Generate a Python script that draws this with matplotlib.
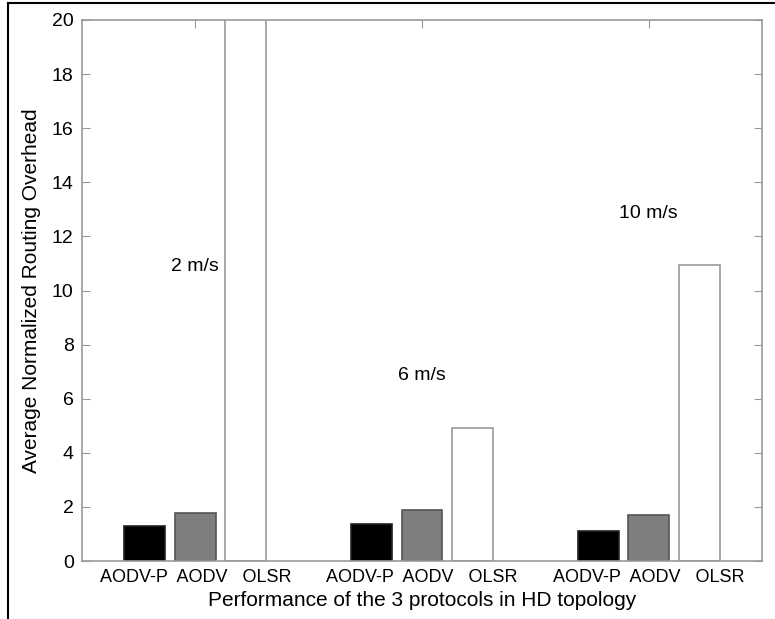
import matplotlib.pyplot as plt
import numpy as np

plt.rcParams['font.family'] = ['Liberation Sans', 'DejaVu Sans']

# Mean normalized routing overhead per speed group
speeds = ["2 m/s", "6 m/s", "10 m/s"]
protocols = ["AODV-P", "AODV", "OLSR"]
aodv_p = [1.28, 1.37, 1.11]
aodv = [1.77, 1.88, 1.70]
olsr = [20.5, 4.92, 10.94]
speed_label_y = [10.9, 6.85, 12.85]

colors = ["black", "#7f7f7f", "white"]
edges = ["#222222", "#555555", "#9a9a9a"]

fig = plt.figure(figsize=(7.75, 6.19), dpi=100)
ax = fig.add_axes([82 / 775, 1 - 561 / 619, 680 / 775, 541 / 619])

groups = np.arange(1, len(speeds) + 1)
offset = 0.223
width = 0.18
series = [aodv_p, aodv, olsr]
for i, vals in enumerate(series):
    ax.bar(groups + (i - 1) * offset, vals, width=width, color=colors[i],
           edgecolor=edges[i], linewidth=1.2, zorder=2)

for g, lab, y in zip(groups, speeds, speed_label_y):
    ax.text(g, y, lab, ha="center", va="center", fontsize=14)

ax.set_xlim(0.5, 3.5)
ax.set_ylim(0, 20)
ax.set_yticks(np.arange(0, 21, 2))

# one label per group, protocol names spaced out under the bars
group_label = "{}  {}   {}".format(*protocols)
ax.set_xticks(groups)
ax.set_xticklabels([group_label] * len(groups), fontsize=13)
ax.tick_params(axis="x", direction="in", length=6, top=True, bottom=True,
               color="#9a9a9a", pad=6)
ax.tick_params(axis="y", direction="in", length=6, right=True,
               color="#9a9a9a", labelsize=14, pad=6)

for sp in ax.spines.values():
    sp.set_color("#9a9a9a")
    sp.set_linewidth(1.2)

ax.set_xlabel("Performance of the 3 protocols in HD topology", fontsize=15, labelpad=3)
ax.set_ylabel("Average Normalized Routing Overhead", fontsize=15, labelpad=8)

# frame lines along the top and left edge of the figure
fig.add_artist(plt.Line2D([8 / 775, 1], [1 - 3 / 619, 1 - 3 / 619], color="black", lw=1.5))
fig.add_artist(plt.Line2D([8 / 775, 8 / 775], [0, 1 - 3 / 619], color="black", lw=1.5))

fig.savefig("out.png", dpi=100)
